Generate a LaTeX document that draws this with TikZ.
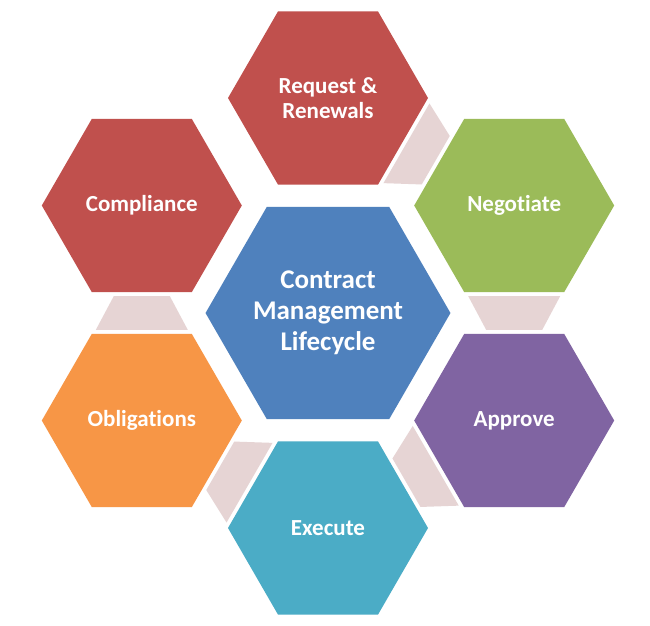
\documentclass[tikz,border=0pt]{standalone}
\usepackage{fontspec}
\setmainfont[Ligatures=NoCommon]{Carlito}
\usetikzlibrary{shapes.geometric,calc}
\definecolor{cRed}{HTML}{C0504D}
\definecolor{cGreen}{HTML}{9BBB59}
\definecolor{cPurple}{HTML}{8064A2}
\definecolor{cTeal}{HTML}{4BACC6}
\definecolor{cOrange}{HTML}{F79646}
\definecolor{cBlue}{HTML}{4F81BD}
\definecolor{cPink}{HTML}{E6D4D4}
\newcommand{\hexconn}[2]{%
  \path ($(#1)!90.6pt!(#2)$) coordinate (s-#1)
        ($(#2)!90.6pt!(#1)$) coordinate (t-#1);
  \fill[connfill] ($(s-#1)!46pt!90:(#2)$) -- ($(s-#1)!46pt!-90:(#2)$)
     -- ($(t-#1)!28pt!90:(#1)$) -- ($(t-#1)!28pt!-90:(#1)$) -- cycle;}
\begin{document}
\begin{tikzpicture}[x=1pt,y=-1pt,
  hexa/.style={regular polygon, regular polygon sides=6, minimum size=200pt,
    inner sep=0pt, outer sep=0pt, text=white, align=center,
    font=\bfseries\fontsize{23}{25}\selectfont},
  hexc/.style={hexa, minimum size=244pt, font=\bfseries\fontsize{27}{31}\selectfont},
  connfill/.style={fill=cPink}]
\useasboundingbox[fill=white] (0,0) rectangle (650,625);
\node[hexc, fill=cBlue] (ctr) at (328,313) {Contract\\Management\\Lifecycle};
\node[hexa, fill=cRed] (req) at (328,98) {Request \&\\Renewals};
\node[hexa, fill=cGreen] (neg) at (514.2,205.5) {Negotiate};
\node[hexa, fill=cPurple] (app) at (514.2,420.5) {Approve};
\node[hexa, fill=cTeal] (exe) at (328,528) {Execute};
\node[hexa, fill=cOrange] (obl) at (141.8,420.5) {Obligations};
\node[hexa, fill=cRed] (com) at (141.8,205.5) {Compliance};
\hexconn{req}{neg}
\hexconn{neg}{app}
\hexconn{app}{exe}
\hexconn{exe}{obl}
\hexconn{obl}{com}
\end{tikzpicture}
\end{document}
